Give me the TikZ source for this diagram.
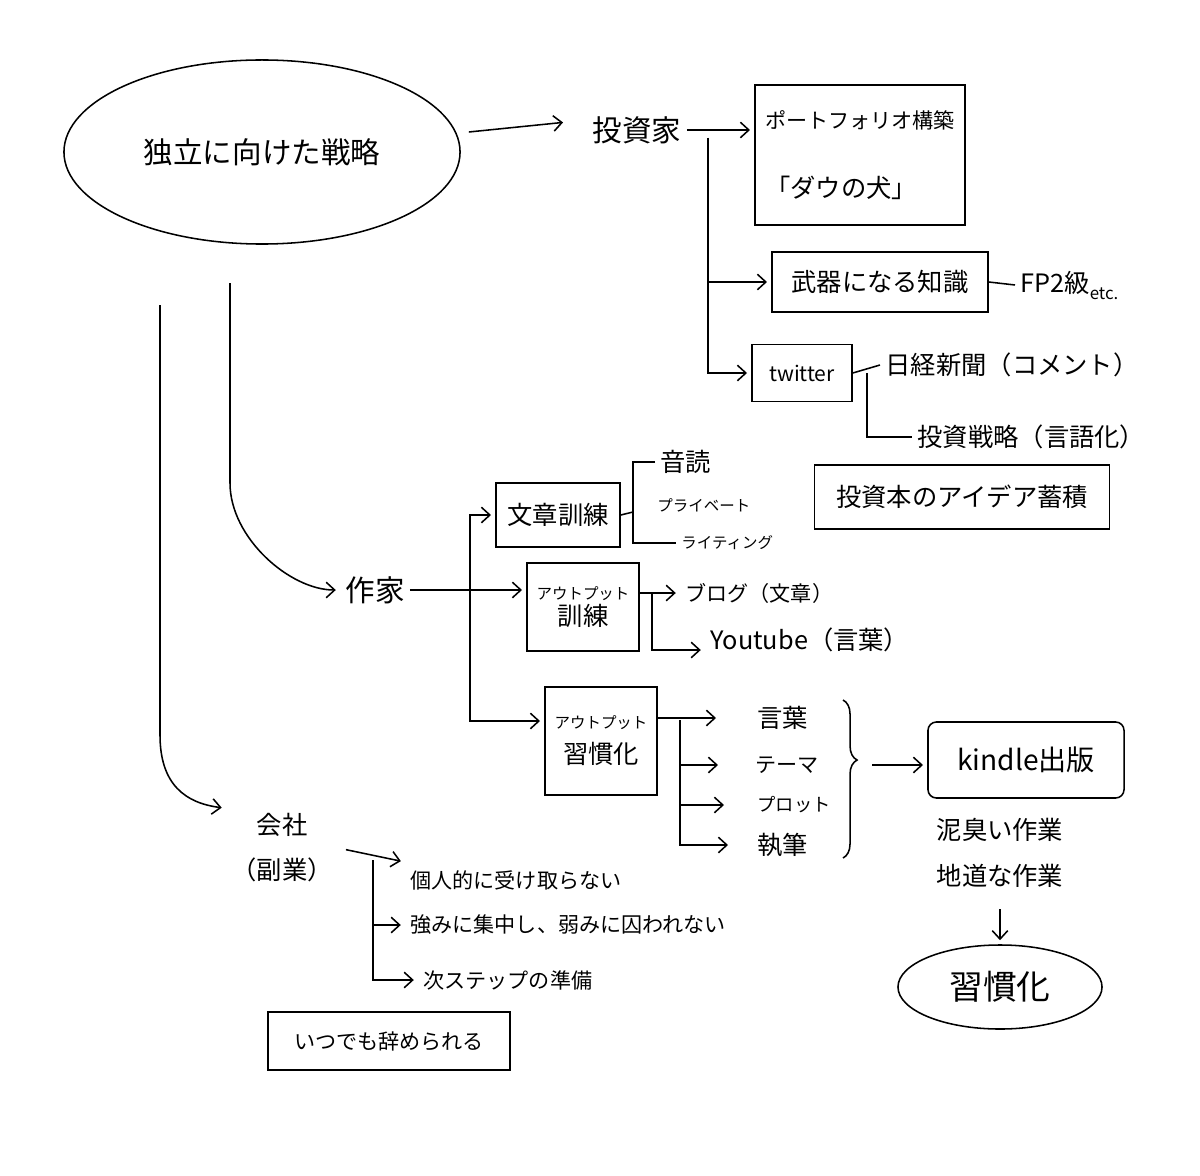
\documentclass[tikz,border=0pt]{standalone}
\usepackage{fontspec}
\setmainfont{Noto Sans CJK JP}
\usetikzlibrary{shapes.geometric,arrows.meta,calc,decorations.pathreplacing}
\begin{document}
\begin{tikzpicture}[
    x=0.025cm, y=-0.025cm,
    line width=1.1pt,
    >={Straight Barb[length=6pt,width=11pt]},
    box/.style={draw, align=center, inner sep=2pt},
    arr/.style={->, shorten >=3pt},
    fl/.style={font=\fontsize{21}{26}\selectfont},
    fm/.style={font=\fontsize{18}{22}\selectfont},
    fs/.style={font=\fontsize{15}{18}\selectfont},
    fk/.style={font=\fontsize{11}{14}\selectfont}
]
    \useasboundingbox (0,0) rectangle (1200,1175);

    \node[draw, ellipse, minimum width=9.9cm, minimum height=4.6cm, fl] (strat) at (262,152) {独立に向けた戦略};

    % 投資家
    \node[fl] (inv) at (637,130) {投資家};
    \draw[arr] ($(strat.east)+(8,-20)$) -- ([xshift=-0.5cm,yshift=0.2cm]inv.west);
    \node[box, align=left, minimum width=5.25cm, minimum height=3.5cm] (port) at (860,155) {{\fontsize{15}{18}\selectfont ポートフォリオ構築}\\[32pt]{\fontsize{18}{22}\selectfont 「ダウの犬」}};
    \node[box, fm, minimum width=5.4cm, minimum height=1.5cm] (weap) at (880,282) {武器になる知識};
    \node[fm, anchor=west] (fp) at (1015,285) {FP2級\raisebox{-5pt}{\fontsize{12}{12}\selectfont etc.}};
    \node[box, fs, minimum width=2.5cm, minimum height=1.43cm] (tw) at (802,373) {twitter};
    \node[fm, anchor=west] (nikkei) at (880,365) {日経新聞（コメント）};
    \node[fm, anchor=west] (istrat) at (912,437) {投資戦略（言語化）};
    \node[box, fm, minimum width=7.375cm, minimum height=1.6cm] (idea) at (962,497) {投資本のアイデア蓄積};

    \coordinate (ij) at (708,138);
    \draw[arr] (inv.east) -- (inv.east -| port.west);
    \draw[arr] (ij) |- (weap.west);
    \draw[arr] (ij) |- (tw.west);
    \draw (weap.east) -- (fp.west);
    \draw (tw.east) -- (nikkei.west);
    \draw ($(tw.east)+(14,0)$) |- (istrat.west);

    % 作家
    \coordinate (wtop) at (230,283);
    \node[fl] (writer) at (375,590) {作家};
    \draw[arr] (wtop) -- ++(0,200) .. controls +(0,55) and +(-50,0) .. (writer.west);
    \node[box, fm, minimum width=3.1cm, minimum height=1.6cm] (bun) at (558,515) {文章訓練};
    \node[box, fk, minimum width=2.8cm, minimum height=2.2cm] (outt) at (583,607) {アウトプット\\[2pt]{\fontsize{18}{22}\selectfont 訓練}};
    \node[box, fk, minimum width=2.8cm, minimum height=2.7cm] (hab) at (601,741) {アウトプット\\[8pt]{\fontsize{18}{22}\selectfont 習慣化}};

    \coordinate (wj) at (470,590);
    \draw[arr] (writer.east) -- (writer.east -| outt.west);
    \draw[arr] (wj) |- (bun.west);
    \draw[arr] (wj) |- ([yshift=0.5cm]hab.west);

    \node[fm, anchor=west] (ondoku) at (655,462) {音読};
    \node[fk, anchor=west] (priv) at (652,505) {プライベート};
    \node[fk, anchor=west] (writing) at (676,543) {ライティング};
    \coordinate (bj) at (633,512);
    \draw (bun.east) -- (bj);
    \draw (ondoku.west) -| (bj) |- (writing.west);

    \node[fs, anchor=west] (blog) at (680,593) {ブログ（文章）};
    \node[fm, anchor=west] (yt) at (705,640) {Youtube（言葉）};
    \draw[arr] (outt.east |- blog.west) -- (blog.west);
    \draw[arr] ($(outt.east |- blog.west)+(12,0)$) |- ([yshift=-0.25cm]yt.west);

    \node[fm, anchor=west] (kotoba) at (752,718) {言葉};
    \node[fs, anchor=west] (theme) at (750,765) {テーマ};
    \node[fk, anchor=west] (plot) at (752,805) {\fontsize{13}{16}\selectfont プロット};
    \node[fm, anchor=west] (shippitsu) at (752,845) {執筆};
    \coordinate (hj) at (680,720);
    \draw[arr, shorten >=0.9cm] (hab.east |- kotoba.west) -- (kotoba.west);
    \draw[arr, shorten >=0.8cm] (hj) |- (theme.west);
    \draw[arr, shorten >=0.7cm] (hj) |- (plot.west);
    \draw[arr, shorten >=0.6cm] (hj) |- (shippitsu.west);

    \draw[decorate, decoration={brace, amplitude=10pt, aspect=0.38}] (843,700) -- (843,858);
    \coordinate (brtip) at (872,765);
    \node[box, rounded corners=6pt, font=\fontsize{20}{24}\selectfont, minimum width=4.9cm, minimum height=1.9cm] (kindle) at (1026,760) {kindle出版};
    \draw[arr] (brtip) -- (brtip -| kindle.west);

    \node[fm, align=center] (work) at (1000,853) {泥臭い作業\\[11pt]地道な作業};
    \node[draw, ellipse, minimum width=5.1cm, minimum height=2.1cm, font=\fontsize{24}{28}\selectfont] (habit) at (1000,987) {習慣化};
    \draw[arr, shorten <=0.4cm, shorten >=0.1cm] (work.south) -- (habit.north);

    % 会社
    \coordinate (ctop) at (160,305);
    \node[fm, align=center] (company) at (282,848) {会社\\[10pt]（副業）};
    \draw[arr] (ctop) -- ++(0,430) .. controls +(0,50) and +(-40,-5) .. (company.north west);
    \node[fs, anchor=west] (pers) at (405,880) {個人的に受け取らない};
    \node[fs, anchor=west] (str) at (405,925) {強みに集中し、弱みに囚われない};
    \node[fs, anchor=west] (next) at (418,980) {次ステップの準備};
    \coordinate (cj) at (373,860);
    \draw[arr, shorten <=0.2cm] (company.east) -- ([yshift=0.45cm]pers.west);
    \draw[arr] (cj) |- (str.west);
    \draw[arr] (cj) |- (next.west);

    \node[box, fs, minimum width=6.05cm, minimum height=1.45cm] (quit) at (389,1041) {いつでも辞められる};
\end{tikzpicture}
\end{document}
